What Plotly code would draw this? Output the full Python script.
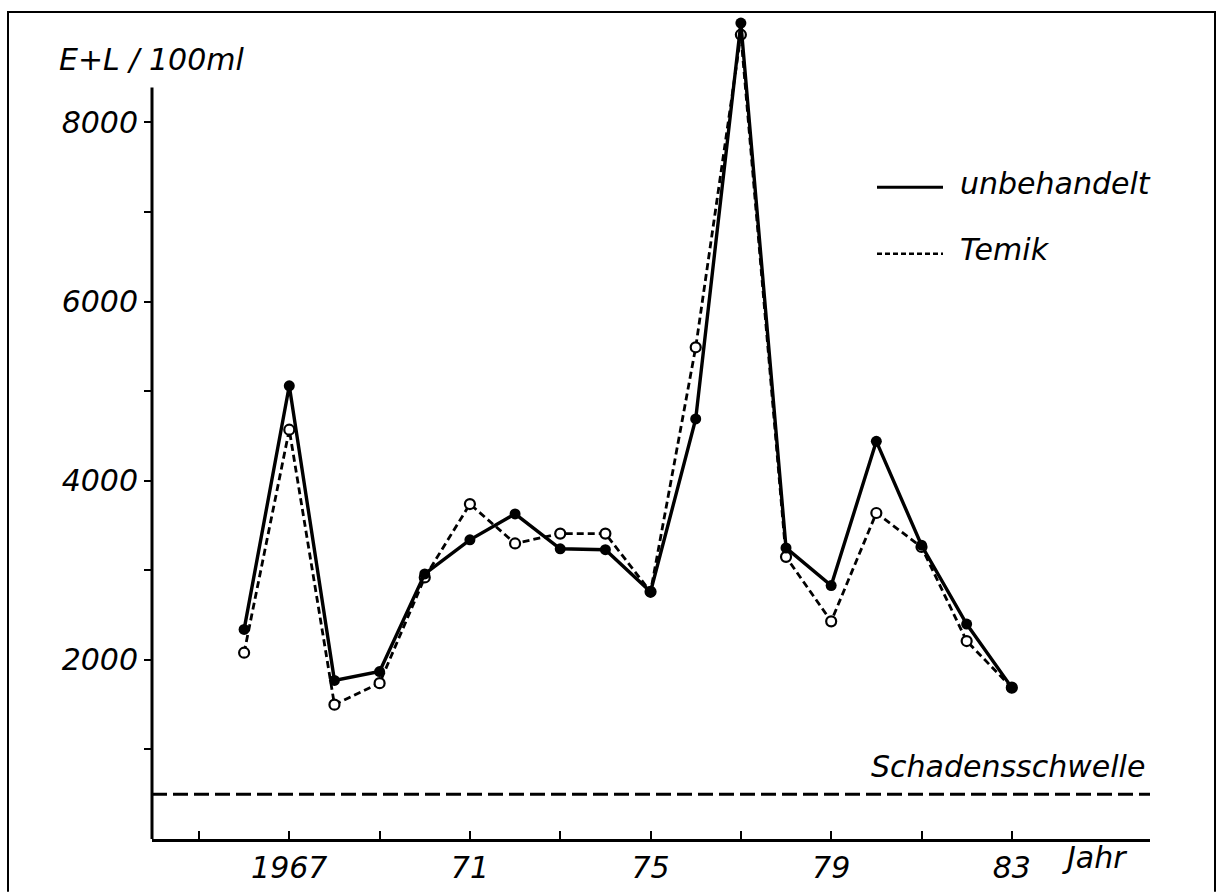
import plotly.graph_objects as go

# ---- data ----
years = [1966, 1967, 1968, 1969, 1970, 1971, 1972, 1973, 1974, 1975,
         1976, 1977, 1978, 1979, 1980, 1981, 1982, 1983]
unbehandelt = [2340, 5060, 1770, 1870, 2960, 3340, 3630, 3240, 3230, 2760,
               4690, 9110, 3250, 2830, 4440, 3280, 2400, 1690]
temik = [2080, 4570, 1500, 1740, 2920, 3740, 3300, 3410, 3410, 2760,
         5490, 8980, 3150, 2430, 3640, 3260, 2210, 1690]
schadensschwelle = 500

x_tickvals = [1965, 1967, 1969, 1971, 1973, 1975, 1977, 1979, 1981, 1983]
x_ticktext = ["", "1967", "", "71", "", "75", "", "79", "", "83"]
y_tickvals = [1000, 2000, 3000, 4000, 5000, 6000, 7000, 8000]
y_ticktext = ["", "2000", "", "4000", "", "6000", "", "8000"]

# ---- layout geometry ----
W, H = 1219, 895
L, R, T, B = 152, 69, 10, 52
PW, PH = W - L - R, H - T - B
X_RANGE = [1963.96, 1986.06]
Y_RANGE = [0, 9256]
Y_AXIS_TOP = 8390

def px(x):
    return (x - L) / PW

def py(y):
    return (H - B - y) / PH

FONT = "DejaVu Sans"
fs = 30
ifont = dict(family=FONT, size=fs, color="black", style="italic")

fig = go.Figure()

fig.add_trace(go.Scatter(
    x=years, y=temik, mode="lines+markers", name="Temik",
    line=dict(color="black", width=2.8, dash="7px,4px"),
    marker=dict(symbol="circle", size=10, color="white",
                line=dict(color="black", width=2.2)),
))
fig.add_trace(go.Scatter(
    x=years, y=unbehandelt, mode="lines+markers", name="unbehandelt",
    line=dict(color="black", width=3.4),
    marker=dict(symbol="circle", size=11, color="black"),
))

shapes = []
# y axis line
shapes.append(dict(type="line", xref="paper", yref="y", x0=0, x1=0,
                   y0=0, y1=Y_AXIS_TOP, line=dict(color="black", width=3)))
# Schadensschwelle
shapes.append(dict(type="line", xref="paper", yref="y", x0=0, x1=1,
                   y0=schadensschwelle, y1=schadensschwelle,
                   line=dict(color="black", width=3, dash="15px,6px")))
# legend samples
shapes.append(dict(type="line", xref="paper", yref="paper",
                   x0=px(877), x1=px(943), y0=py(188), y1=py(188),
                   line=dict(color="black", width=3)))
shapes.append(dict(type="line", xref="paper", yref="paper",
                   x0=px(877), x1=px(943), y0=py(255), y1=py(255),
                   line=dict(color="black", width=2.5, dash="5px,3px")))
# frame
shapes.append(dict(type="path", xref="paper", yref="paper",
                   path=f"M {px(8)} {py(896)} L {px(8)} {py(12)} L {px(1215)} {py(12)} L {px(1215)} {py(896)}",
                   line=dict(color="black", width=2)))

annotations = [
    dict(text="E+L / 100ml", xref="paper", yref="paper", x=px(57), y=py(60),
         xanchor="left", yanchor="middle", showarrow=False, font=ifont),
    dict(text="unbehandelt", xref="paper", yref="paper", x=px(958), y=py(184),
         xanchor="left", yanchor="middle", showarrow=False, font=ifont),
    dict(text="Temik", xref="paper", yref="paper", x=px(958), y=py(251),
         xanchor="left", yanchor="middle", showarrow=False, font=ifont),
    dict(text="Schadensschwelle", xref="paper", yref="y", x=px(1147), y=schadensschwelle,
         yshift=8, xanchor="right", yanchor="bottom", showarrow=False, font=ifont),
    dict(text="Jahr", xref="paper", yref="paper", x=px(1060), y=py(862),
         xanchor="left", yanchor="middle", showarrow=False, font=ifont),
]

fig.update_layout(
    width=W, height=H,
    margin=dict(l=L, r=R, t=T, b=B, pad=0),
    paper_bgcolor="white", plot_bgcolor="white",
    showlegend=False,
    shapes=shapes, annotations=annotations,
    xaxis=dict(range=X_RANGE, showgrid=False, zeroline=False,
               showline=True, linecolor="black", linewidth=3,
               ticks="inside", ticklen=8, tickwidth=2, tickcolor="black",
               tickvals=x_tickvals, ticktext=x_ticktext, tickfont=ifont),
    yaxis=dict(range=Y_RANGE, showgrid=False, zeroline=False, showline=False,
               ticks="outside", ticklen=7, tickwidth=2, tickcolor="black",
               tickvals=y_tickvals, ticktext=y_ticktext, tickfont=ifont),
)

fig.write_html("out.html")
